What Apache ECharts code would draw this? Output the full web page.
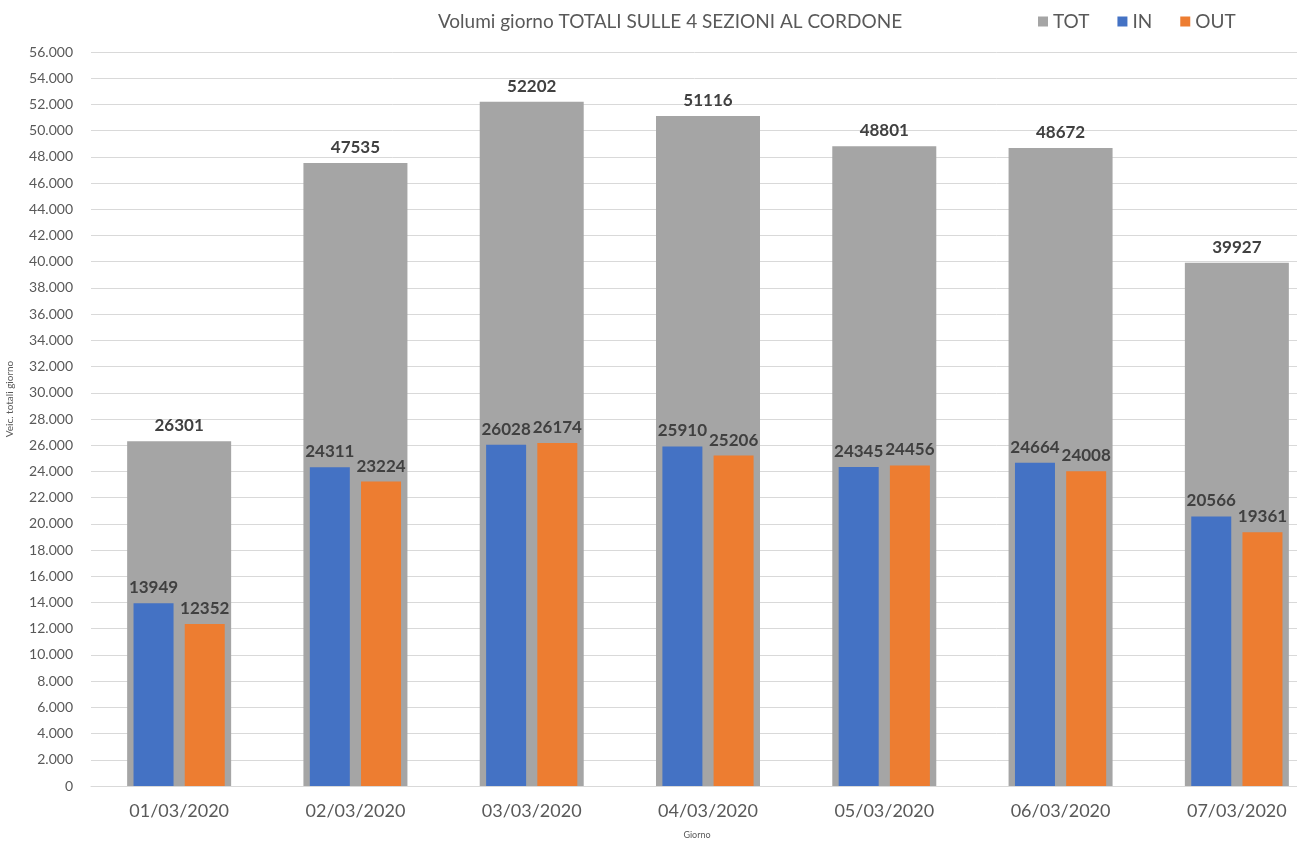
<!DOCTYPE html>
<html>
<head>
<meta charset="utf-8">
<script src="https://cdn.jsdelivr.net/npm/echarts@6/dist/echarts.min.js"></script>
<style>
html,body{margin:0;padding:0;background:#fff;}
#chart{width:1297px;height:843px;}
</style>
</head>
<body>
<div id="chart"></div>
<script>
// Daily vehicle counts on the four cordon sections
const days = ['01/03/2020','02/03/2020','03/03/2020','04/03/2020','05/03/2020','06/03/2020','07/03/2020'];
const totValues = [26301, 47535, 52202, 51116, 48801, 48672, 39927];
const inValues  = [13949, 24311, 26028, 25910, 24345, 24664, 20566];
const outValues = [12352, 23224, 26174, 25206, 24456, 24008, 19361];

const FONT = 'Lato, "Open Sans", sans-serif';
const TEXT = '#595959';

const chart = echarts.init(document.getElementById('chart'), null, {renderer: 'canvas'});

const valueLabel = {
  show: true,
  position: 'top',
  distance: 7,
  fontFamily: FONT,
  fontWeight: 'bold',
  fontSize: 17,
  color: '#404040'
};

chart.setOption({
  animation: false,
  backgroundColor: '#fff',
  title: {
    text: 'Volumi giorno TOTALI SULLE 4 SEZIONI AL CORDONE',
    left: 665,
    textAlign: 'center',
    top: 7,
    textStyle: {fontFamily: FONT, fontWeight: 'normal', fontSize: 19, color: TEXT}
  },
  legend: {
    data: ['TOT', 'IN', 'OUT'],
    left: 1033,
    top: 7,
    itemWidth: 10,
    itemHeight: 10,
    itemGap: 28,
    icon: 'rect',
    textStyle: {fontFamily: FONT, fontSize: 19, color: TEXT}
  },
  grid: {left: 91, top: 52, right: -28, bottom: 57, containLabel: false, outerBoundsMode: 'none'},
  xAxis: [
    {
      type: 'category',
      data: days,
      name: 'Giorno',
      nameLocation: 'middle',
      nameGap: 45,
      nameTextStyle: {fontFamily: FONT, fontSize: 9, color: TEXT, padding: [0, 22, 0, 0]},
      axisLine: {show: true, lineStyle: {color: '#D9D9D9'}},
      axisTick: {show: false},
      axisLabel: {fontFamily: FONT, fontSize: 18, color: TEXT, margin: 16}
    },
    {
      type: 'category',
      data: days,
      show: false
    }
  ],
  yAxis: {
    type: 'value',
    min: 0,
    max: 56000,
    interval: 2000,
    name: 'Veic. totali giorno',
    nameLocation: 'middle',
    nameGap: 76,
    nameRotate: 90,
    nameTextStyle: {fontFamily: FONT, fontSize: 10, color: TEXT, padding: [0, 0, 0, 40]},
    axisLine: {show: false},
    axisTick: {show: false},
    splitLine: {lineStyle: {color: '#D9D9D9'}},
    axisLabel: {
      fontFamily: FONT,
      fontSize: 14,
      color: TEXT,
      margin: 18,
      formatter: v => v === 0 ? '0' : String(v).replace(/\B(?=(\d{3})+(?!\d))/g, '.')
    }
  },
  series: [
    {
      name: 'TOT',
      type: 'bar',
      xAxisIndex: 0,
      data: totValues,
      barWidth: 104,
      itemStyle: {color: '#A5A5A5'},
      label: valueLabel
    },
    {
      name: 'IN',
      type: 'bar',
      xAxisIndex: 1,
      data: inValues,
      barWidth: 40,
      barGap: '28%',
      itemStyle: {color: '#4472C4'},
      label: valueLabel
    },
    {
      name: 'OUT',
      type: 'bar',
      xAxisIndex: 1,
      data: outValues,
      barWidth: 40,
      barGap: '28%',
      itemStyle: {color: '#ED7D31'},
      label: valueLabel
    }
  ]
});
</script>
</body>
</html>
